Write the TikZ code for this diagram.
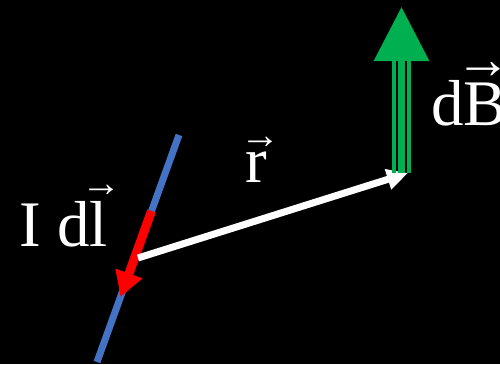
\documentclass[tikz,border=0pt]{standalone}
\usepackage{fontspec}
\setmainfont{Liberation Serif}
\usepackage{tikz}
\usetikzlibrary{arrows.meta}
\definecolor{fieldgreen}{HTML}{00B050}
\definecolor{wireblue}{HTML}{4472C4}
% letter with an arrow over it: #1 shift, #2 raise, #3 arrow size, #4 letter
\newcommand{\vecover}[4]{\leavevmode\rlap{\kern#1\raisebox{#2}{\fontsize{#3}{#3}\selectfont →}}#4}
\tikzset{
  wire/.style={draw=wireblue, line width=7pt},
  curarr/.style={draw=red, line width=9pt, -{Triangle[length=25pt,width=27pt]}},
  rarr/.style={draw=white, line width=7pt, -{Triangle[length=21pt,width=20pt]}},
  bstem/.style={draw=fieldgreen, line width=3.4pt},
  barr/.style={draw=fieldgreen, line width=6.7pt, -{Triangle[length=54pt,width=54pt]}},
  lbl/.style={text=white, font=\fontsize{65}{70}\selectfont, anchor=base west, inner sep=0pt},
}
\begin{document}
\begin{tikzpicture}[x=1pt, y=-1pt]
        \fill[black] (0,0) rectangle (500,364);
        \useasboundingbox (0,0) rectangle (500,364);
        % wire and current element
        \coordinate (wireTop) at (179,135);
        \coordinate (wireBot) at (97,362);
        \coordinate (curStart) at (151.5,211);
        \coordinate (curTip) at (120.5,297);
        \draw[wire] (wireTop) -- (wireBot);
        \draw[curarr] (curStart) -- (curTip);
        % position vector
        \coordinate (rStart) at (138,258);
        \coordinate (rTip) at (408,173);
        \draw[rarr] (rStart) -- (rTip);
        % field
        \coordinate (bTail) at (401.5,173);
        \coordinate (bNeck) at (401.5,61);
        \coordinate (bTip) at (401.5,7);
        \draw[bstem] ([xshift=-7.5pt]bTail) -- ([xshift=-7.5pt]bNeck);
        \draw[bstem] ([xshift=7.5pt]bTail) -- ([xshift=7.5pt]bNeck);
        \draw[barr] (bTail) -- (bTip);
        % labels
        \node[lbl] (lblIdl) at (19,246) {I d\vecover{-8pt}{50pt}{40}{l}};
        \node[lbl] (lblR) at (245,182) {\vecover{-5pt}{34pt}{40}{r}};
        \node[lbl] (lblB) at (431,125) {d\vecover{-8pt}{47pt}{56}{B}};
\end{tikzpicture}
\end{document}
